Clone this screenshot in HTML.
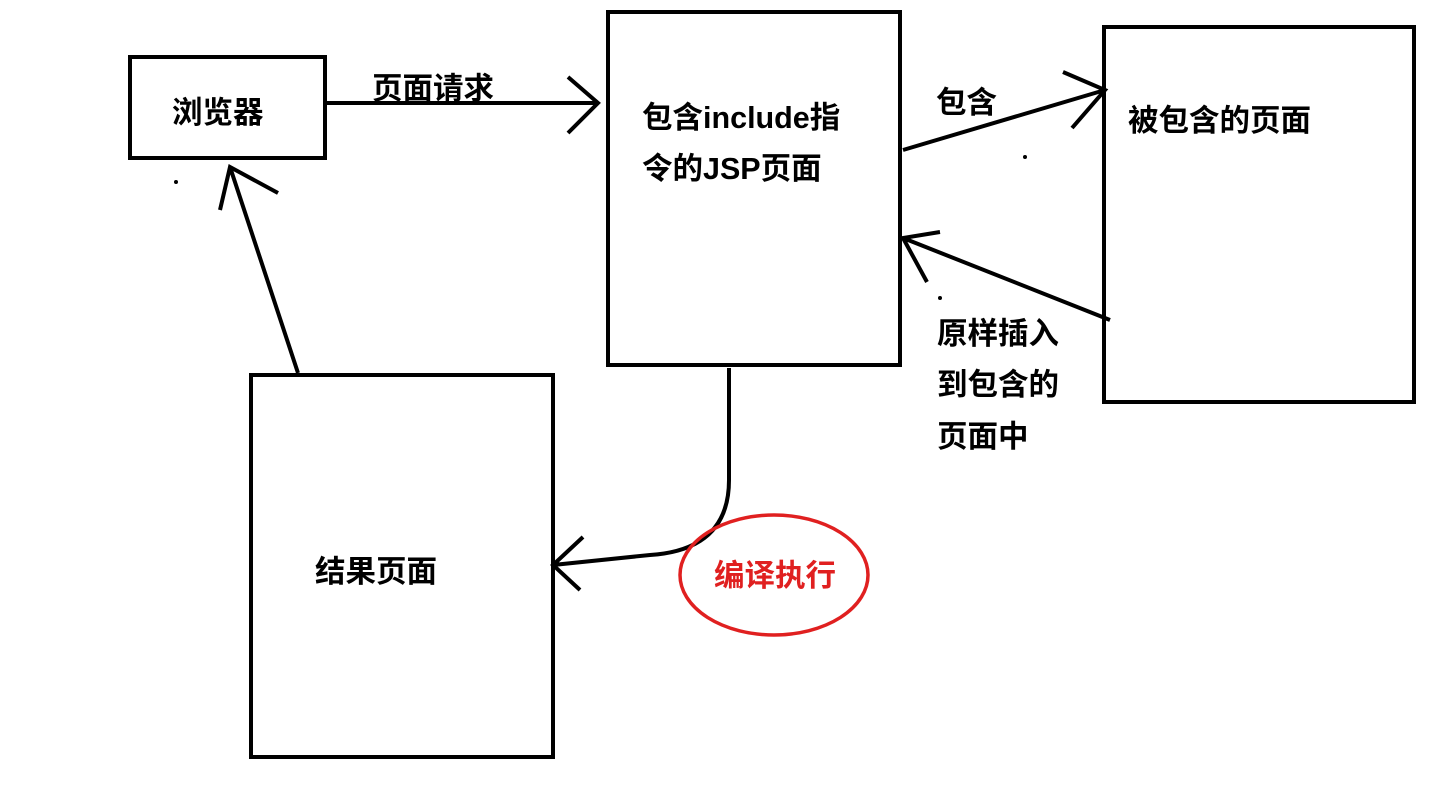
<!DOCTYPE html>
<html><head><meta charset="utf-8"><style>
html,body{margin:0;padding:0;background:#fff;}
svg{display:block}
text{font-family:"Liberation Sans","Noto Sans CJK SC",sans-serif;font-weight:bold;font-size:30.5px;fill:#000}
</style></head><body>
<svg width="1437" height="785" viewBox="0 0 1437 785">
<g fill="none" stroke="#000" stroke-width="4">
<rect x="130" y="57" width="195" height="101"/>
<rect x="608" y="12" width="292" height="353"/>
<rect x="1104" y="27" width="310" height="375"/>
<rect x="251" y="375" width="302" height="382"/>
<path d="M325 103 L598 103 M568 77 L598 103 L568 133"/>
<path d="M903 150 L1105 90 M1063 72 L1105 90 L1072 128"/>
<path d="M1110 320 L903 238 M940 232 L903 238 L927 282"/>
<path d="M298 373 L230 167 M220 210 L230 167 L278 193"/>
<path d="M729 368 L729 480 Q729 550 650 555 Q600 560 553 565 M583 537 L553 565 L580 590"/>
</g>
<ellipse cx="774" cy="575" rx="94" ry="60" fill="none" stroke="#e02020" stroke-width="3.5"/>
<g fill="#000"><circle cx="176" cy="182" r="2"/><circle cx="1025" cy="157" r="2"/><circle cx="940" cy="298" r="2"/></g>
<text x="172" y="123">浏览器</text>
<text x="372" y="99">页面请求</text>
<text x="642" y="128">包含include指</text>
<text x="642" y="179">令的JSP页面</text>
<text x="936" y="113">包含</text>
<text x="1128" y="131">被包含的页面</text>
<text x="937" y="344">原样插入</text>
<text x="937" y="395">到包含的</text>
<text x="937" y="447">页面中</text>
<text x="315" y="582">结果页面</text>
<text x="714" y="586" style="fill:#e02020">编译执行</text>
</svg>
</body></html>
